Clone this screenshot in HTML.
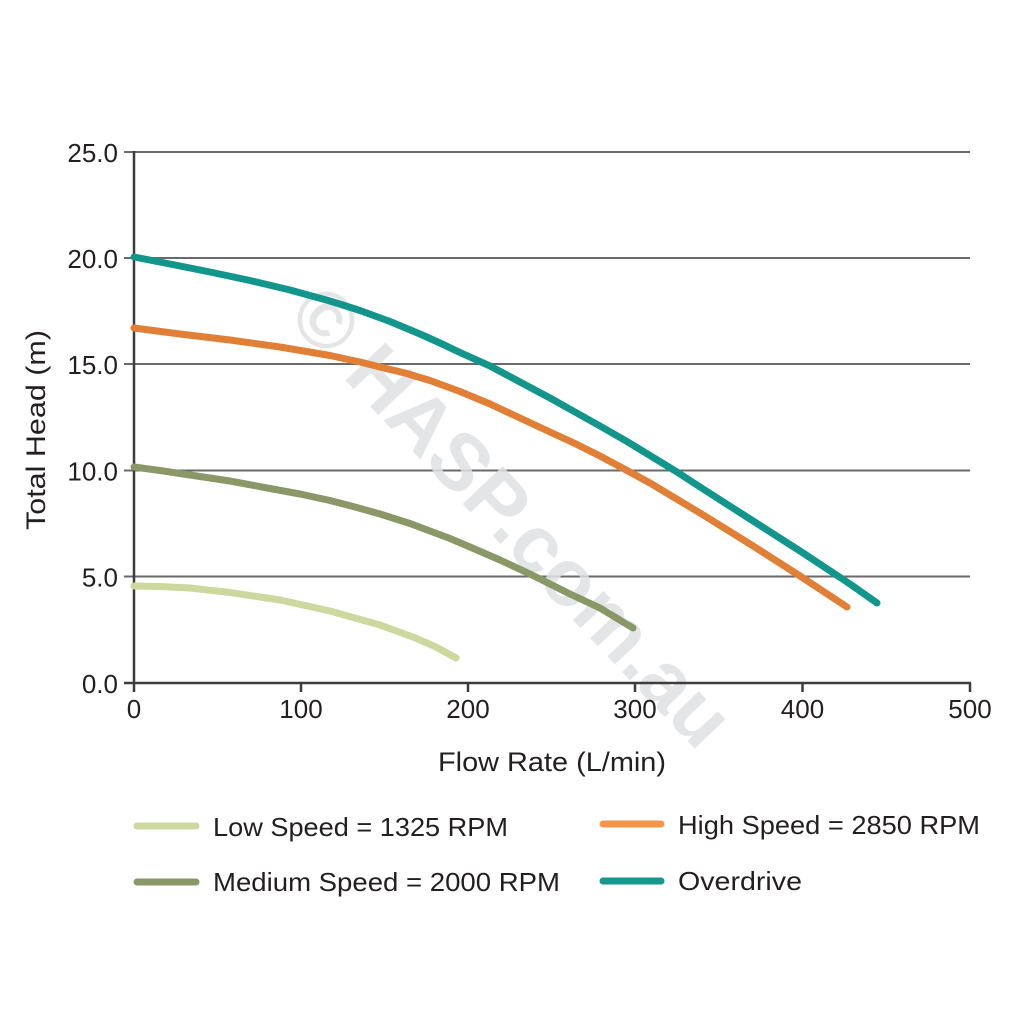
<!DOCTYPE html>
<html>
<head>
<meta charset="utf-8">
<style>
  html, body { margin: 0; padding: 0; background: #ffffff; }
  body { width: 1024px; height: 1024px; overflow: hidden; }
  svg { display: block; }
  text { font-family: "Liberation Sans", "DejaVu Sans", sans-serif; fill: #231f20; }
</style>
</head>
<body>
<svg width="1024" height="1024" viewBox="0 0 1024 1024" xmlns="http://www.w3.org/2000/svg">
  <rect x="0" y="0" width="1024" height="1024" fill="#ffffff"/>

  <!-- gridlines -->
  <g stroke="#6a6a6a" stroke-width="2" fill="none">
    <line x1="124" y1="152" x2="970" y2="152"/>
    <line x1="124" y1="258" x2="970" y2="258"/>
    <line x1="124" y1="364" x2="970" y2="364"/>
    <line x1="124" y1="470.5" x2="970" y2="470.5"/>
    <line x1="124" y1="576.5" x2="970" y2="576.5"/>
  </g>

  <!-- watermark -->
  <g transform="translate(512,516) rotate(46.5)">
    <text x="0" y="0" text-anchor="middle" dominant-baseline="central" font-size="80" font-weight="bold" textLength="600" lengthAdjust="spacingAndGlyphs" style="fill:#dfe0e3;fill-opacity:0.85">© HASP.com.au</text>
  </g>

  <!-- axes -->
  <g stroke="#3c3c3c" stroke-width="2.5" fill="none">
    <line x1="134" y1="151" x2="134" y2="684"/>
    <line x1="124" y1="683" x2="971" y2="683"/>
    <line x1="134" y1="683" x2="134" y2="692"/>
    <line x1="301" y1="683" x2="301" y2="692"/>
    <line x1="468" y1="683" x2="468" y2="692"/>
    <line x1="635" y1="683" x2="635" y2="692"/>
    <line x1="802.5" y1="683" x2="802.5" y2="692"/>
    <line x1="970" y1="683" x2="970" y2="692"/>
  </g>

  <!-- y tick labels -->
  <g font-size="26" text-anchor="end">
    <text x="118" y="162">25.0</text>
    <text x="118" y="268">20.0</text>
    <text x="118" y="374">15.0</text>
    <text x="118" y="480.5">10.0</text>
    <text x="118" y="586.5">5.0</text>
    <text x="118" y="693">0.0</text>
  </g>

  <!-- x tick labels -->
  <g font-size="26" text-anchor="middle">
    <text x="134" y="718">0</text>
    <text x="301" y="718">100</text>
    <text x="468" y="718">200</text>
    <text x="635" y="718">300</text>
    <text x="802.5" y="718">400</text>
    <text x="970" y="718">500</text>
  </g>

  <!-- axis titles -->
  <text x="438" y="771" font-size="27" textLength="228" lengthAdjust="spacingAndGlyphs">Flow Rate (L/min)</text>
  <text transform="translate(45,530) rotate(-90)" x="0" y="0" font-size="27" textLength="200" lengthAdjust="spacingAndGlyphs">Total Head (m)</text>

  <!-- curves -->
  <g fill="none" stroke-width="7" stroke-linecap="round" stroke-linejoin="round">
    <polyline stroke="#cdd89f" points="134,586 160,586.5 190,588 230,592.5 280,600 330,611 380,625 413,637 436,647 456,658"/>
    <polyline stroke="#8a9868" points="134,467 160,470.5 190,475 230,481 270,488.5 300,494 330,500.5 355,507 380,514 410,523.5 430,531 450,538.5 470,547 500,560 530,574 550,584 570,594 600,608 633,628"/>
    <polyline stroke="#e07f35" points="134,328 180,334 230,340 280,347 330,355.5 360,362 380,367 405,373 430,380.5 460,391.5 490,404 520,418 550,432 575,443.5 600,456 627,470.5 650,483 700,513 750,544 800,576 847,607"/>
    <polyline stroke="#12968c" points="134,257 170,264 210,272 250,280.5 290,290 330,301 360,310.5 390,321.5 420,334 440,343 460,352.5 490,366 520,382 550,398 575,412 600,426 627,441.5 650,455.5 677,472 700,487 750,519 800,551 850,584 877,603"/>
  </g>

  <!-- legend -->
  <g stroke-width="7" stroke-linecap="round">
    <line x1="137" y1="826" x2="196" y2="826" stroke="#cdd89f"/>
    <line x1="137" y1="882" x2="196" y2="882" stroke="#8a9868"/>
    <line x1="603" y1="824" x2="661" y2="824" stroke="#f4964a"/>
    <line x1="603" y1="881" x2="661" y2="881" stroke="#17978d"/>
  </g>
  <g font-size="26">
    <text x="213" y="836" textLength="295" lengthAdjust="spacingAndGlyphs">Low Speed = 1325 RPM</text>
    <text x="213" y="891" textLength="347" lengthAdjust="spacingAndGlyphs">Medium Speed = 2000 RPM</text>
    <text x="678" y="834" textLength="302" lengthAdjust="spacingAndGlyphs">High Speed = 2850 RPM</text>
    <text x="678" y="890" textLength="124" lengthAdjust="spacingAndGlyphs">Overdrive</text>
  </g>
</svg>
</body>
</html>
